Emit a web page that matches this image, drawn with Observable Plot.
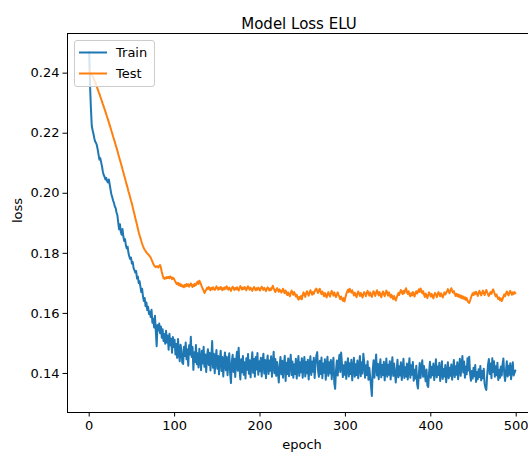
<!DOCTYPE html>
<html>
<head>
<meta charset="utf-8">
<script src="https://cdn.jsdelivr.net/npm/d3@7"></script>
<script src="https://cdn.jsdelivr.net/npm/@observablehq/plot@0.6"></script>
<style>
  html, body { margin: 0; padding: 0; background: white; }
  svg { display: block; }
</style>
</head>
<body>
<div id="chart"></div>
<script>
const title = "Model Loss ELU";
const xLabel = "epoch";
const yLabel = "loss";
const seriesNames = ["Train", "Test"];
const seriesColors = ["#1f77b4", "#ff7f0e"];
const xTicks = [0, 100, 200, 300, 400, 500];
const yTicks = [0.14, 0.16, 0.18, 0.20, 0.22, 0.24];

const trainLoss = [
0.2470,0.2360,0.2285,0.2225,0.2210,0.2198,0.2183,0.2172,0.2168,0.2160,
0.2145,0.2128,0.2112,0.2117,0.2103,0.2090,0.2072,0.2061,0.2055,0.2046,
0.2051,0.2040,0.2036,0.2046,0.2030,0.2012,0.1996,0.1987,0.1976,0.1968,
0.1956,0.1951,0.1936,0.1927,0.1903,0.1880,0.1897,0.1871,0.1862,0.1881,
0.1856,0.1841,0.1847,0.1826,0.1816,0.1822,0.1801,0.1789,0.1781,0.1786,
0.1766,0.1771,0.1751,0.1744,0.1736,0.1741,0.1716,0.1722,0.1701,0.1707,
0.1689,0.1671,0.1682,0.1656,0.1641,0.1651,0.1624,0.1636,0.1611,0.1622,
0.1598,0.1606,0.1588,0.1612,0.1569,0.1582,0.1553,0.1592,0.1541,0.1491,
0.1561,0.1543,0.1566,0.1534,0.1556,0.1519,0.1547,0.1508,0.1531,0.1499,
0.1542,0.1503,0.1526,0.1479,0.1532,0.1494,0.1516,0.1469,0.1521,0.1488,
0.1512,0.1463,0.1498,0.1452,0.1515,0.1470,0.1441,0.1496,0.1478,0.1436,
0.1432,0.1489,0.1458,0.1503,0.1447,0.1481,0.1426,0.1494,0.1463,0.1522,
0.1455,0.1488,0.1412,0.1471,0.1438,0.1495,0.1431,0.1467,0.1420,0.1482,
0.1449,0.1411,0.1476,0.1433,0.1489,0.1422,0.1463,0.1405,0.1458,0.1481,
0.1428,0.1469,0.1410,0.1452,0.1508,0.1419,0.1466,0.1401,0.1447,0.1478,
0.1416,0.1458,0.1397,0.1449,0.1476,0.1408,0.1455,0.1390,0.1442,0.1470,
0.1411,0.1456,0.1394,0.1438,0.1467,0.1402,0.1368,0.1440,0.1462,0.1405,
0.1449,0.1388,0.1441,0.1472,0.1409,0.1486,0.1418,0.1380,0.1447,0.1404,
0.1458,0.1396,0.1437,0.1383,0.1451,0.1412,0.1465,0.1399,0.1444,0.1387,
0.1436,0.1471,0.1402,0.1448,0.1389,0.1455,0.1413,0.1468,0.1396,0.1441,
0.1407,0.1452,0.1390,0.1439,0.1466,0.1400,0.1445,0.1384,0.1436,0.1460,
0.1398,0.1443,0.1409,0.1457,0.1389,0.1432,0.1472,0.1401,0.1448,0.1392,
0.1438,0.1404,0.1370,0.1429,0.1455,0.1397,0.1442,0.1386,0.1431,0.1459,
0.1375,0.1436,0.1398,0.1450,0.1391,0.1433,0.1462,0.1395,0.1440,0.1386,
0.1431,0.1398,0.1449,0.1383,0.1427,0.1458,0.1392,0.1437,0.1404,0.1451,
0.1386,0.1429,0.1455,0.1390,0.1438,0.1401,0.1446,0.1380,0.1425,0.1457,
0.1395,0.1440,0.1406,0.1452,0.1385,0.1430,0.1459,0.1471,0.1409,0.1389,
0.1442,0.1398,0.1453,0.1384,0.1433,0.1402,0.1447,0.1379,0.1424,0.1456,
0.1392,0.1437,0.1401,0.1445,0.1381,0.1428,0.1452,0.1368,0.1349,0.1410,
0.1443,0.1393,0.1436,0.1462,0.1405,0.1470,0.1431,0.1388,0.1427,0.1396,
0.1439,0.1382,0.1423,0.1451,0.1390,0.1434,0.1398,0.1446,0.1377,0.1418,
0.1452,0.1389,0.1431,0.1395,0.1443,0.1384,0.1425,0.1458,0.1391,0.1437,
0.1400,0.1466,0.1438,0.1386,0.1427,0.1395,0.1441,0.1379,0.1419,0.1390,
0.1358,0.1325,0.1411,0.1444,0.1386,0.1429,0.1463,0.1393,0.1432,0.1381,
0.1420,0.1447,0.1387,0.1428,0.1395,0.1439,0.1377,0.1416,0.1450,0.1389,
0.1429,0.1396,0.1441,0.1380,0.1419,0.1454,0.1392,0.1433,0.1401,0.1370,
0.1412,0.1446,0.1387,0.1424,0.1393,0.1437,0.1378,0.1414,0.1449,0.1385,
0.1421,0.1390,0.1433,0.1380,0.1415,0.1451,0.1386,0.1427,0.1396,0.1438,
0.1376,0.1412,0.1383,0.1426,0.1364,0.1350,0.1398,0.1435,0.1385,0.1420,
0.1444,0.1389,0.1425,0.1397,0.1374,0.1413,0.1360,0.1355,0.1404,0.1439,
0.1386,0.1422,0.1394,0.1433,0.1378,0.1410,0.1447,0.1387,0.1423,0.1395,
0.1436,0.1375,0.1406,0.1441,0.1382,0.1415,0.1390,0.1428,0.1371,0.1401,
0.1437,0.1384,0.1419,0.1392,0.1430,0.1379,0.1411,0.1445,0.1388,0.1424,
0.1396,0.1437,0.1381,0.1416,0.1449,0.1392,0.1430,0.1458,0.1403,0.1440,
0.1386,0.1423,0.1397,0.1451,0.1410,0.1456,0.1399,0.1376,0.1408,0.1383,
0.1419,0.1391,0.1428,0.1372,0.1405,0.1381,0.1414,0.1388,0.1425,0.1377,
0.1408,0.1384,0.1416,0.1366,0.1352,0.1345,0.1394,0.1429,0.1448,0.1398,
0.1433,0.1384,0.1451,0.1405,0.1441,0.1389,0.1424,0.1394,0.1436,0.1378,
0.1412,0.1386,0.1423,0.1393,0.1430,0.1450,0.1399,0.1375,0.1407,0.1441,
0.1390,0.1426,0.1396,0.1434,0.1381,0.1414,0.1437,0.1393,0.1402,0.1410
];

const testLoss = [
0.2410,0.2404,0.2399,0.2395,0.2390,0.2384,0.2377,0.2370,0.2362,0.2354,
0.2346,0.2338,0.2331,0.2322,0.2314,0.2306,0.2297,0.2289,0.2280,0.2272,
0.2263,0.2254,0.2246,0.2236,0.2227,0.2218,0.2208,0.2199,0.2189,0.2180,
0.2171,0.2161,0.2151,0.2142,0.2131,0.2121,0.2111,0.2101,0.2091,0.2080,
0.2070,0.2059,0.2049,0.2038,0.2028,0.2018,0.2006,0.1997,0.1986,0.1975,
0.1966,0.1953,0.1941,0.1930,0.1918,0.1906,0.1895,0.1882,0.1870,0.1860,
0.1851,0.1841,0.1832,0.1824,0.1817,0.1812,0.1808,0.1803,0.1800,0.1797,
0.1794,0.1790,0.1786,0.1779,0.1772,0.1765,0.1760,0.1756,0.1754,0.1757,
0.1756,0.1753,0.1758,0.1761,0.1752,0.1738,0.1727,0.1718,0.1715,0.1719,
0.1716,0.1721,0.1718,0.1722,0.1717,0.1723,0.1720,0.1714,0.1719,0.1716,
0.1711,0.1705,0.1700,0.1697,0.1702,0.1694,0.1699,0.1691,0.1696,0.1689,
0.1693,0.1687,0.1695,0.1690,0.1698,0.1692,0.1697,0.1689,0.1694,0.1700,
0.1693,0.1688,0.1696,0.1691,0.1699,0.1694,0.1701,0.1706,0.1698,0.1709,
0.1703,0.1696,0.1688,0.1681,0.1676,0.1668,0.1674,0.1679,0.1685,0.1681,
0.1688,0.1683,0.1677,0.1685,0.1680,0.1687,0.1682,0.1678,0.1684,0.1690,
0.1683,0.1679,0.1686,0.1681,0.1688,0.1683,0.1677,0.1685,0.1680,0.1687,
0.1682,0.1690,0.1684,0.1679,0.1686,0.1681,0.1675,0.1683,0.1689,0.1684,
0.1678,0.1685,0.1680,0.1687,0.1682,0.1676,0.1684,0.1691,0.1685,0.1679,
0.1686,0.1681,0.1688,0.1683,0.1677,0.1685,0.1690,0.1684,0.1679,0.1686,
0.1680,0.1675,0.1683,0.1688,0.1682,0.1677,0.1684,0.1679,0.1686,0.1681,
0.1676,0.1683,0.1689,0.1684,0.1678,0.1685,0.1680,0.1674,0.1682,0.1687,
0.1681,0.1676,0.1683,0.1678,0.1685,0.1692,0.1684,0.1677,0.1671,0.1679,
0.1684,0.1678,0.1672,0.1680,0.1675,0.1669,0.1676,0.1682,0.1673,0.1667,
0.1676,0.1668,0.1661,0.1670,0.1664,0.1657,0.1667,0.1676,0.1669,0.1662,
0.1671,0.1665,0.1656,0.1662,0.1651,0.1646,0.1655,0.1649,0.1658,0.1647,
0.1661,0.1670,0.1663,0.1655,0.1667,0.1674,0.1666,0.1659,0.1669,0.1677,
0.1670,0.1662,0.1671,0.1665,0.1673,0.1679,0.1683,0.1674,0.1668,0.1677,
0.1682,0.1671,0.1664,0.1673,0.1666,0.1657,0.1668,0.1660,0.1653,0.1664,
0.1671,0.1662,0.1656,0.1667,0.1675,0.1666,0.1659,0.1670,0.1661,0.1654,
0.1663,0.1670,0.1662,0.1655,0.1647,0.1656,0.1649,0.1642,0.1651,0.1640,
0.1653,0.1664,0.1672,0.1679,0.1671,0.1682,0.1676,0.1669,0.1677,0.1668,
0.1660,0.1669,0.1662,0.1654,0.1665,0.1673,0.1666,0.1658,0.1668,0.1661,
0.1653,0.1664,0.1671,0.1665,0.1657,0.1668,0.1675,0.1667,0.1659,0.1670,
0.1662,0.1655,0.1666,0.1674,0.1667,0.1658,0.1669,0.1677,0.1668,0.1660,
0.1671,0.1663,0.1654,0.1665,0.1673,0.1666,0.1657,0.1668,0.1676,0.1667,
0.1659,0.1670,0.1661,0.1653,0.1662,0.1655,0.1647,0.1658,0.1650,0.1643,
0.1652,0.1660,0.1668,0.1661,0.1671,0.1678,0.1670,0.1664,0.1675,0.1668,
0.1677,0.1684,0.1672,0.1665,0.1674,0.1662,0.1657,0.1667,0.1660,0.1671,
0.1665,0.1656,0.1668,0.1674,0.1666,0.1672,0.1680,0.1671,0.1683,0.1676,
0.1667,0.1674,0.1663,0.1655,0.1666,0.1659,0.1651,0.1662,0.1670,0.1664,
0.1656,0.1665,0.1659,0.1650,0.1661,0.1668,0.1662,0.1654,0.1663,0.1671,
0.1664,0.1657,0.1667,0.1660,0.1653,0.1662,0.1670,0.1663,0.1668,0.1674,
0.1681,0.1673,0.1667,0.1677,0.1684,0.1676,0.1669,0.1674,0.1666,0.1658,
0.1665,0.1657,0.1663,0.1655,0.1661,0.1652,0.1659,0.1650,0.1656,0.1648,
0.1654,0.1645,0.1651,0.1642,0.1637,0.1635,0.1643,0.1652,0.1660,0.1667,
0.1661,0.1670,0.1664,0.1672,0.1666,0.1658,0.1668,0.1675,0.1667,0.1660,
0.1669,0.1676,0.1668,0.1661,0.1671,0.1678,0.1670,0.1663,0.1658,0.1666,
0.1671,0.1665,0.1674,0.1680,0.1672,0.1664,0.1657,0.1663,0.1654,0.1648,
0.1653,0.1644,0.1650,0.1641,0.1647,0.1656,0.1663,0.1657,0.1666,0.1673,
0.1667,0.1660,0.1669,0.1675,0.1668,0.1662,0.1670,0.1664,0.1671,0.1667
];

const allSeries = [trainLoss, testLoss];
const rows = allSeries.flatMap((vals, s) =>
  vals.map((v, i) => ({ epoch: i, loss: v, series: seriesNames[s] }))
);

const W = 528, H = 457;
const font = "DejaVu Sans, Liberation Sans, sans-serif";

const chart = Plot.plot({
  width: W,
  height: H,
  marginLeft: 67,
  marginRight: 0,
  marginTop: 33,
  marginBottom: 45,
  style: { fontFamily: font, fontSize: "13px", background: "white", color: "black", overflow: "visible" },
  x: { domain: [-25.4, 514.4] },
  y: { domain: [0.127, 0.2532] },
  marks: [
    Plot.line(rows.filter(d => d.series === seriesNames[0]), { x: "epoch", y: "loss", stroke: seriesColors[0], strokeWidth: 2 }),
    Plot.line(rows.filter(d => d.series === seriesNames[1]), { x: "epoch", y: "loss", stroke: seriesColors[1], strokeWidth: 2 }),
    Plot.frame({ anchor: "top", stroke: "black", strokeWidth: 1 }),
    Plot.frame({ anchor: "left", stroke: "black", strokeWidth: 1 }),
    Plot.frame({ anchor: "bottom", stroke: "black", strokeWidth: 1 }),
    Plot.axisX({ ticks: xTicks, tickSize: 4.5, tickPadding: 4, label: null, fontSize: 13 }),
    Plot.axisY({ ticks: yTicks, tickSize: 4.5, tickPadding: 3.5, tickFormat: d3.format(".2f"), label: null, fontSize: 13 }),
    Plot.text([title], { frameAnchor: "top", dy: -15, dx: 1, fontSize: 15, fill: "black" }),
    Plot.text([xLabel], { frameAnchor: "bottom", dy: 36, dx: 4, fontSize: 13, fill: "black" }),
    Plot.text([yLabel], { frameAnchor: "left", dx: -50, rotate: -90, fontSize: 13, fill: "black" })
  ]
});

// Legend (upper left, matplotlib style)
const svg = d3.select(chart);
const lg = svg.append("g").attr("font-family", font).attr("font-size", 13).attr("text-anchor", "start");
lg.append("rect")
  .attr("x", 74.5).attr("y", 40.5).attr("width", 80).attr("height", 46)
  .attr("rx", 2.5).attr("fill", "white").attr("fill-opacity", 0.8)
  .attr("stroke", "#cccccc").attr("stroke-width", 1);
seriesNames.forEach((name, i) => {
  const y = 52.5 + i * 21;
  lg.append("line").attr("x1", 79).attr("x2", 107).attr("y1", y).attr("y2", y)
    .attr("stroke", seriesColors[i]).attr("stroke-width", 2);
  lg.append("text").attr("x", 116).attr("y", y).attr("dy", "0.35em")
    .attr("text-anchor", "start").attr("fill", "black").text(name);
});

document.getElementById("chart").appendChild(chart);
</script>
</body>
</html>
